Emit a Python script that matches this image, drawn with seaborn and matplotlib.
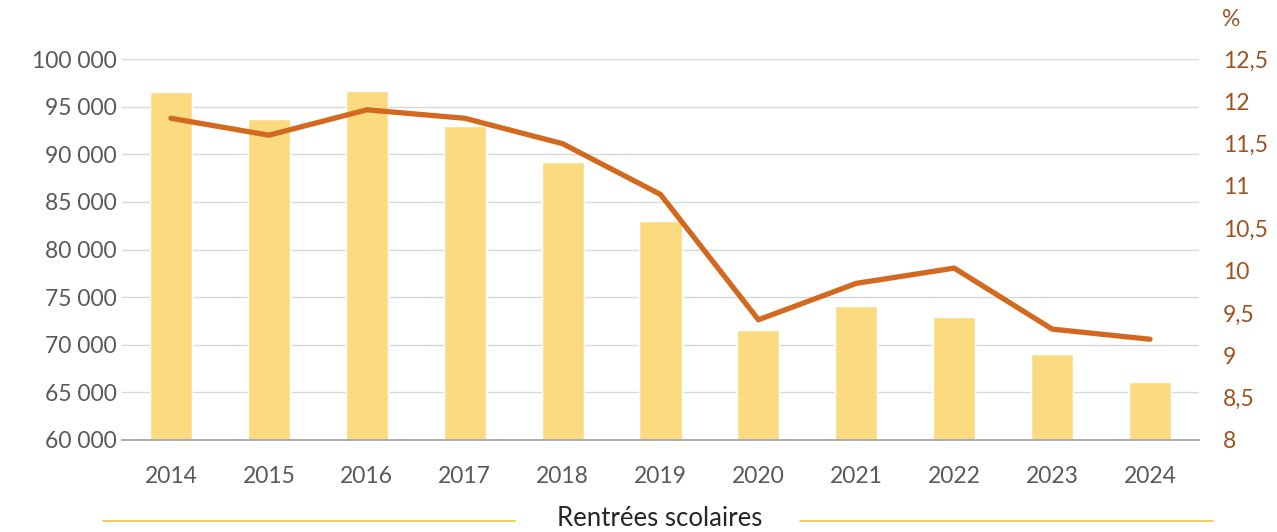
import numpy as np
import pandas as pd
import matplotlib
matplotlib.use("Agg")
import matplotlib.pyplot as plt
from matplotlib.lines import Line2D
from matplotlib.ticker import FuncFormatter, MultipleLocator
import seaborn as sns

# School-year intakes (bars, left axis) and rate in % (line, right axis)
years = ["2014", "2015", "2016", "2017", "2018", "2019", "2020", "2021", "2022", "2023", "2024"]
effectifs = [96500, 93700, 96600, 93000, 89200, 83000, 71500, 74100, 72900, 69000, 66100]
taux = [11.8, 11.6, 11.9, 11.8, 11.5, 10.9, 9.42, 9.85, 10.03, 9.31, 9.19]

bar_color = "#FCDA80"
line_color = "#D2691F"
rate_label_color = "#A0521E"
text_gray = "#595959"

sns.set_theme(style="white")
plt.rcParams["font.family"] = ["Lato", "DejaVu Sans"]

df = pd.DataFrame({"annee": years, "effectif": effectifs, "taux": taux})
df["pos"] = np.arange(len(df))

fig = plt.figure(figsize=(12.77, 5.32), dpi=100)
ax = fig.add_axes([122 / 1277, 92 / 532, 1077 / 1277, 381 / 532])

sns.barplot(data=df, x="annee", y="effectif", color=bar_color, saturation=1,
            width=0.43, ax=ax, zorder=2)
ax.set_ylim(60000, 100000)
ax.set_xlim(-0.5, len(df) - 0.5)
ax.yaxis.set_major_locator(MultipleLocator(5000))
ax.yaxis.set_major_formatter(FuncFormatter(lambda v, _: f"{int(v):,}".replace(",", " ")))
ax.grid(axis="y", color="#D9D9D9", linewidth=1.0, zorder=0)
ax.set_axisbelow(True)
for side in ["top", "right", "left"]:
    ax.spines[side].set_visible(False)
ax.spines["bottom"].set_color("#A6A6A6")
ax.spines["bottom"].set_linewidth(1.3)
ax.tick_params(axis="y", length=0, pad=4, labelsize=16.5, labelcolor=text_gray)
ax.tick_params(axis="x", length=0, pad=19, labelsize=16.5, labelcolor=text_gray)
ax.set_xlabel("")
ax.set_ylabel("")

ax2 = ax.twinx()
sns.lineplot(data=df, x="pos", y="taux", color=line_color, linewidth=3.8,
             solid_capstyle="round", ax=ax2, zorder=3)
ax2.set_ylim(8, 12.5)
ax2.set_xlim(-0.5, len(df) - 0.5)
ax2.yaxis.set_major_locator(MultipleLocator(0.5))
ax2.yaxis.set_major_formatter(FuncFormatter(lambda v, _: f"{v:g}".replace(".", ",")))
ax2.grid(False)
for side in ["top", "right", "left", "bottom"]:
    ax2.spines[side].set_visible(False)
ax2.tick_params(axis="y", length=0, pad=17, labelsize=16.5, labelcolor=rate_label_color)
ax2.set_xlabel("")
ax2.set_ylabel("")

fig.text(1222 / 1277, 1 - 20 / 532, "%", ha="left", va="center",
         fontsize=16.5, color=rate_label_color)

# Axis title with golden rules on both sides
fig.text(660 / 1277, 1 - 518 / 532, "Rentrées scolaires", ha="center", va="center",
         fontsize=18.5, color="#262626")
rule_y = 1 - 521 / 532
fig.add_artist(Line2D([103 / 1277, 515 / 1277], [rule_y, rule_y],
                      color="#F7C54A", linewidth=1.3, transform=fig.transFigure))
fig.add_artist(Line2D([800 / 1277, 1213 / 1277], [rule_y, rule_y],
                      color="#F7C54A", linewidth=1.3, transform=fig.transFigure))

fig.savefig("out.png", dpi=100)
